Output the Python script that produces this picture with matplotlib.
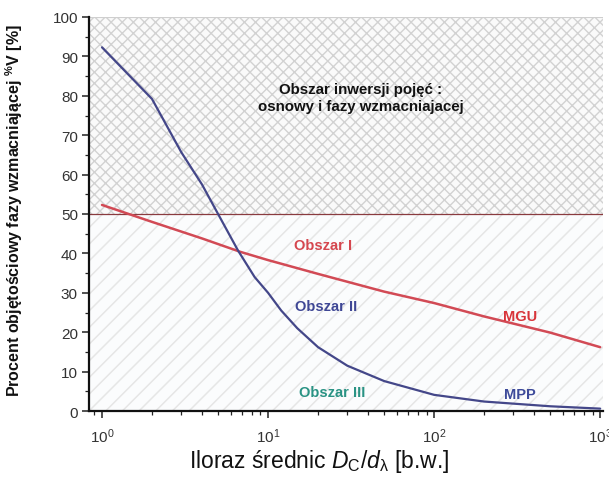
import matplotlib
matplotlib.use("Agg")
import matplotlib.pyplot as plt
from matplotlib.ticker import LogLocator, MultipleLocator, LogFormatterSciNotation

plt.rcParams['font.family'] = ['Liberation Sans', 'DejaVu Sans']
plt.rcParams['mathtext.fontset'] = 'custom'
plt.rcParams['mathtext.rm'] = 'Liberation Sans'
plt.rcParams['mathtext.it'] = 'Liberation Sans:italic'
plt.rcParams['mathtext.bf'] = 'Liberation Sans:bold'
plt.rcParams['mathtext.default'] = 'regular'

# Diameter ratio D_C/d_lambda and limiting volume fraction of the reinforcing phase
mpp_x = [1, 2, 3, 4, 5, 6.6, 8.3, 10, 12, 15, 20, 30, 50, 100, 200, 500, 1000]
mpp_y = [92.3, 79.2, 65.7, 57.5, 50.0, 40.7, 34.0, 30.0, 25.5, 21.0, 16.2, 11.5, 7.6, 4.1, 2.4, 1.2, 0.6]

mgu_x = [1, 2, 4, 6.8, 10, 20, 50, 100, 200, 500, 1000]
mgu_y = [52.3, 48.0, 43.8, 40.4, 38.3, 34.8, 30.3, 27.4, 24.0, 19.9, 16.2]

inversion_level = 50

region_labels = ["Obszar I", "Obszar II", "Obszar III", "MGU", "MPP"]
region_pos = [(21.5, 42.1), (22.5, 26.6), (24.2, 4.9), (330, 24.2), (330, 4.3)]
region_colors = ["#d5474f", "#3f4795", "#2a9384", "#d8343a", "#3d4a9a"]

inversion_text = "Obszar inwersji pojęć :\nosnowy i fazy wzmacniajacej"

fig = plt.figure(figsize=(6.09, 4.81), dpi=100)
ax = fig.add_axes([89 / 609, 1 - 412 / 481, (603 - 89) / 609, 394 / 481])

ax.set_xscale('log')
ax.set_xlim(0.835, 1040)
ax.set_ylim(0, 100)

# Background regions: cross-hatched inversion zone above, diagonal hatch below
with plt.rc_context({'hatch.linewidth': 1.0}):
    ax.axhspan(inversion_level, 100, facecolor='#fafafa', edgecolor='#d2d2d2',
               hatch='xxx', linewidth=0, zorder=0)
with plt.rc_context({'hatch.linewidth': 1.1}):
    ax.axhspan(0, inversion_level, facecolor='#fbfcfd', edgecolor='#e6e6e6',
               hatch='//', linewidth=0, zorder=0)
ax.axhline(100, color='#cfcfcf', lw=0.8, zorder=1)
ax.axhline(inversion_level, color='#8a3b3f', lw=0.9, zorder=2)

ax.plot(mgu_x, mgu_y, color='#d24a55', lw=1.8, zorder=3, solid_capstyle='round')
ax.plot(mpp_x, mpp_y, color='#444789', lw=1.6, zorder=4, solid_capstyle='round')

for lab, (x, y), c in zip(region_labels, region_pos, region_colors):
    ax.text(x, y, lab, color=c, fontsize=10.5, fontweight='bold',
            ha='center', va='center', zorder=5)

ax.text(36.3, 79.6, inversion_text, fontsize=10.8, fontweight='bold', color='#111111',
        ha='center', va='center', linespacing=1.32, zorder=5)

for s in ('top', 'right'):
    ax.spines[s].set_visible(False)
for s in ('left', 'bottom'):
    ax.spines[s].set_linewidth(1.6)
    ax.spines[s].set_color('#111111')

ax.yaxis.set_major_locator(MultipleLocator(10))
ax.yaxis.set_minor_locator(MultipleLocator(5))
ax.xaxis.set_major_locator(LogLocator(base=10, numticks=10))
ax.xaxis.set_minor_locator(LogLocator(base=10, subs=range(2, 10), numticks=20))
ax.xaxis.set_major_formatter(LogFormatterSciNotation())

ax.tick_params(which='major', direction='out', length=5, width=1.1,
               labelsize=11, labelcolor='#333333', color='#222222')
ax.tick_params(which='minor', direction='out', length=3, width=0.9, color='#222222')
ax.tick_params(axis='x', which='major', pad=6)
ax.tick_params(axis='y', which='major', pad=3)

ax.set_xlabel(r'Iloraz średnic $\mathit{D}_{C}/\mathit{d}_{\lambda}$ [b.w.]',
              fontsize=16.5, color='#111111')
ax.xaxis.set_label_coords(0.447, -0.092)
ax.set_ylabel(r'Procent objętościowy fazy wzmacniającej $^{\%}$V [%]',
              fontsize=11.5, fontweight='bold', color='#111111')
ax.yaxis.set_label_coords(-0.1245, 0.51)

fig.savefig('out.png', dpi=100, facecolor='white')
